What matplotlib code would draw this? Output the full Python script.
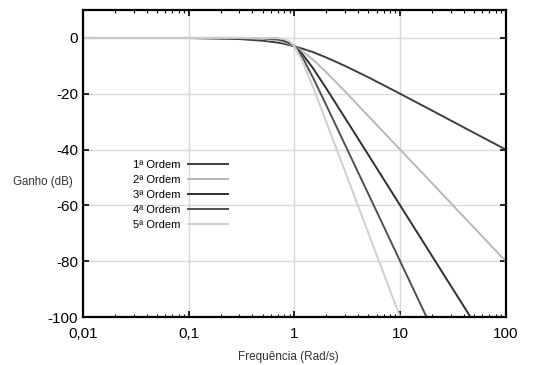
import matplotlib
matplotlib.use('Agg')
import matplotlib.pyplot as plt
from matplotlib.ticker import FixedLocator, FixedFormatter, LogLocator, NullFormatter

# valores (Ganho em dB x frequência em rad/s)
freq = [0.01, 0.1, 0.3, 0.5, 0.7, 0.8, 0.9, 1.0, 1.2, 1.5, 2, 3, 5, 10, 20, 50, 100]
ordem1 = [0.0, -0.04, -0.4, -1.0, -1.7, -2.1, -2.6, -3.0, -3.9, -5.1, -7.0, -10.0, -14.1, -20.0, -26.0, -34.0, -40.0]
ordem2 = [0.0, 0.0, -0.03, -0.26, -0.94, -1.5, -2.2, -3.0, -4.9, -7.8, -12.3, -19.1, -28.0, -40.0, -52.0, -68.0, -80.0]
ordem3 = [0.0, 0.0, 0.0, -0.07, -0.48, -1.0, -1.9, -3.0, -6.0, -10.9, -18.1, -28.6, -41.9, -60.0, -78.1, -102.0, -120.0]
ordem4 = [0.0, 0.0, 0.0, -0.02, -0.24, -0.67, -1.55, -3.0, -7.2, -14.3, -24.1, -38.2, -55.9, -80.0, -104.1, -136.0, -160.0]
ordem5 = [0.0, 0.0, 0.0, 0.0, -0.12, -0.44, -1.3, -3.0, -8.6, -17.7, -30.1, -47.7, -69.9, -100.0, -130.1, -170.0, -200.0]

series = [ordem1, ordem2, ordem3, ordem4, ordem5]
labels = ['1ª Ordem', '2ª Ordem', '3ª Ordem', '4ª Ordem', '5ª Ordem']
colors = ['#404040', '#b8b8b8', '#303030', '#505050', '#cfcfcf']

xticks = [0.01, 0.1, 1, 10, 100]
xticklabels = ['0,01', '0,1', '1', '10', '100']
yticks = [0, -20, -40, -60, -80, -100]

plt.rcParams['font.family'] = ['Liberation Sans', 'DejaVu Sans']

fig = plt.figure(figsize=(5.33, 3.65), dpi=100)
ax = fig.add_axes([0.156, 0.1315, 0.793, 0.841])

for vals, lab, col in zip(series, labels, colors):
    ax.plot(freq, vals, color=col, linewidth=1.4, label=lab)

ax.set_xscale('log')
ax.set_xlim(0.01, 100)
ax.set_ylim(-100, 10)

ax.xaxis.set_major_locator(FixedLocator(xticks))
ax.xaxis.set_major_formatter(FixedFormatter(xticklabels))
ax.xaxis.set_minor_locator(LogLocator(base=10, subs=range(2, 10)))
ax.xaxis.set_minor_formatter(NullFormatter())
ax.set_yticks(yticks)
ax.set_yticklabels([str(v) for v in yticks])

ax.grid(True, which='major', color='#dadada', linewidth=1.0)
ax.tick_params(which='both', direction='in', top=True, right=True,
               labelsize=11, colors='black')
ax.tick_params(which='major', length=4, width=1.2)
ax.tick_params(which='minor', length=2.5, width=0.8)
ax.tick_params(axis='x', pad=7)
for sp in ax.spines.values():
    sp.set_linewidth(1.6)
    sp.set_color('black')

ax.legend(loc='upper right', bbox_to_anchor=(0.343, 0.511), frameon=False,
          markerfirst=False, fontsize=8, handlelength=3.6,
          handletextpad=0.7, labelspacing=0.45, borderpad=0, borderaxespad=0)

fig.text(43 / 533, 1 - 182 / 365, 'Ganho (dB)', ha='center', va='center',
         fontsize=8.3, color='#333333')
fig.text(288 / 533, 1 - 357 / 365, 'Frequência (Rad/s)', ha='center',
         va='center', fontsize=8.5, color='#333333')

fig.savefig('out.png', dpi=100)
